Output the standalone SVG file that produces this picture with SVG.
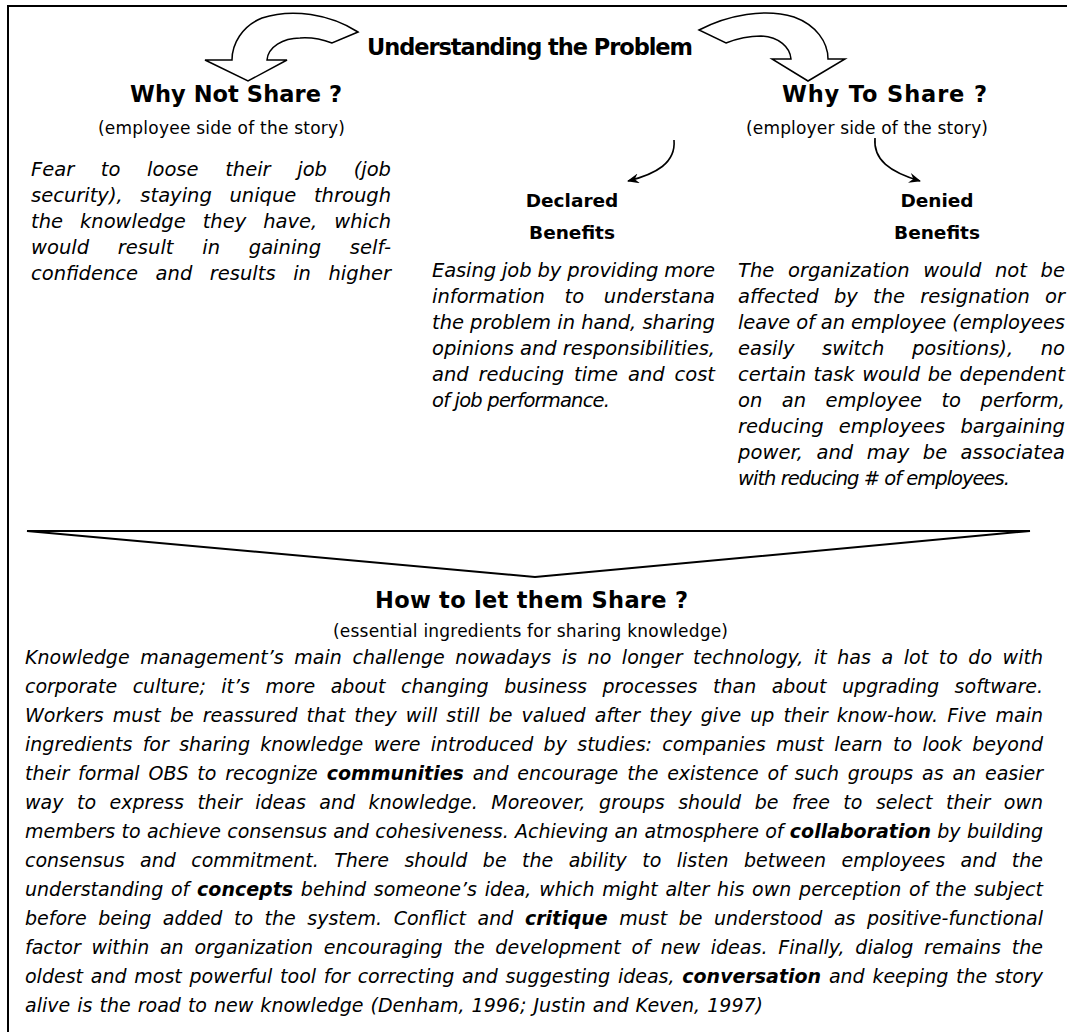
<svg xmlns="http://www.w3.org/2000/svg" width="1067" height="1032" viewBox="0 0 1067 1032">
  <style>
    .frame { fill: none; stroke: #000; stroke-width: 2; }
    .block { fill: #fff; stroke: #000; stroke-width: 1.5; stroke-linejoin: miter; }
    .link { fill: none; stroke: #000; stroke-width: 1.6; }
    .head { font-family: "DejaVu Sans", "Liberation Sans", sans-serif; font-weight: bold; font-size: 22.5px; fill: #000; }
    .label { font-family: "DejaVu Sans", "Liberation Sans", sans-serif; font-weight: bold; font-size: 18.5px; fill: #000; text-anchor: middle; }
    .sub { font-family: "DejaVu Sans", "Liberation Sans", sans-serif; font-size: 17px; fill: #000; }
    .body { font-family: "DejaVu Sans", "Liberation Sans", sans-serif; font-style: italic; font-size: 19.5px; fill: #000; }
    .para { font-family: "DejaVu Sans", "Liberation Sans", sans-serif; font-style: italic; font-size: 19px; fill: #000; }
    .em { font-weight: bold; }
  </style>
  <defs>
    <marker id="barb" viewBox="0 0 12 10" refX="11" refY="5" markerWidth="12" markerHeight="10" markerUnits="userSpaceOnUse" orient="auto">
      <path d="M0,0 L12,5 L0,10 L4,5 Z" fill="#000"/>
    </marker>
  </defs>

  <rect width="1067" height="1032" fill="#fff"/>

  <!-- page frame: top and left rules -->
  <path class="frame" d="M8,1032 L8,6 L1067,6"/>

  <!-- title with the two curved block arrows -->
  <g id="title">
    <path class="block" d="M358,32 C330,14 292,8 262,18 C242,26 232,44 232,60 L205,60 L248,81 L287,60 L267,60 C268,47 283,38 300,38 C314,37 324,40 332,43 Z"/>
    <path class="block" d="M699,30 C728,15 765,8 794,17 C816,25 828,42 828,59 L845,59 L808,81 L772,59 L791,59 C790,47 779,37 761,36 C748,36 736,39 726,43 Z"/>
    <text class="head" x="367" y="55" font-size="21" textLength="326" lengthAdjust="spacing">Understanding the Problem</text>
  </g>

  <!-- employee side -->
  <g id="why-not-share">
    <text class="head" x="130" y="102" textLength="212" lengthAdjust="spacing">Why Not Share ?</text>
    <text class="sub" x="98" y="134" textLength="247" lengthAdjust="spacing">(employee side of the story)</text>
    <g class="body">
      <text x="31" y="176" word-spacing="20.5" textLength="360" lengthAdjust="spacing">Fear to loose their job (job</text>
      <text x="31" y="202" word-spacing="11.4" textLength="360" lengthAdjust="spacing">security), staying unique through</text>
      <text x="31" y="228" word-spacing="10.8" textLength="360" lengthAdjust="spacing">the knowledge they have, which</text>
      <text x="31" y="254" word-spacing="22.5" textLength="360" lengthAdjust="spacing">would result in gaining self-</text>
      <text x="31" y="280" word-spacing="11.4" textLength="360" lengthAdjust="spacing">confidence and results in higher</text>
    </g>
  </g>

  <!-- employer side -->
  <g id="why-to-share">
    <text class="head" x="782" y="102" textLength="205" lengthAdjust="spacing">Why To Share ?</text>
    <text class="sub" x="746" y="134" textLength="242" lengthAdjust="spacing">(employer side of the story)</text>
  </g>

  <g id="declared-benefits">
    <text class="label" x="572" y="207">Declared</text>
    <text class="label" x="572" y="239">Benefits</text>
    <g class="body">
      <text x="432" y="277" textLength="283" lengthAdjust="spacing">Easing job by providing more</text>
      <text x="432" y="303" word-spacing="13.5" textLength="283" lengthAdjust="spacing">information to understana</text>
      <text x="432" y="329" textLength="283" lengthAdjust="spacing">the problem in hand, sharing</text>
      <text x="432" y="355" textLength="283" lengthAdjust="spacing">opinions and responsibilities,</text>
      <text x="432" y="381" word-spacing="3.7" textLength="283" lengthAdjust="spacing">and reducing time and cost</text>
      <text x="432" y="407" textLength="178" lengthAdjust="spacing">of job performance.</text>
    </g>
  </g>

  <g id="denied-benefits">
    <text class="label" x="937" y="207">Denied</text>
    <text class="label" x="937" y="239">Benefits</text>
    <g class="body">
      <text x="738" y="277" word-spacing="7.5" textLength="327" lengthAdjust="spacing">The organization would not be</text>
      <text x="738" y="303" word-spacing="9.1" textLength="327" lengthAdjust="spacing">affected by the resignation or</text>
      <text x="738" y="329" textLength="327" lengthAdjust="spacing">leave of an employee (employees</text>
      <text x="738" y="355" word-spacing="21.4" textLength="327" lengthAdjust="spacing">easily switch positions), no</text>
      <text x="738" y="381" word-spacing="1.3" textLength="327" lengthAdjust="spacing">certain task would be dependent</text>
      <text x="738" y="407" word-spacing="13.3" textLength="327" lengthAdjust="spacing">on an employee to perform,</text>
      <text x="738" y="433" word-spacing="9" textLength="327" lengthAdjust="spacing">reducing employees bargaining</text>
      <text x="738" y="459" word-spacing="7.1" textLength="327" lengthAdjust="spacing">power, and may be associatea</text>
      <text x="738" y="485" textLength="272" lengthAdjust="spacing">with reducing # of employees.</text>
    </g>
  </g>

  <!-- connectors: small curved arrows and the funnel separator -->
  <g id="connectors">
    <path class="link" d="M674,140 C676,163 656,174 628,181" marker-end="url(#barb)"/>
    <path class="link" d="M875,138 C873,160 890,172 920,181" marker-end="url(#barb)"/>
    <path class="frame" d="M27,531 L1030,531 L535,577 Z" stroke-linejoin="miter"/>
  </g>

  <!-- how to share -->
  <g id="how-to-share">
    <text class="head" x="375" y="608" font-size="23" textLength="313" lengthAdjust="spacing">How to let them Share ?</text>
    <text class="sub" x="333" y="637" textLength="395" lengthAdjust="spacing">(essential ingredients for sharing knowledge)</text>
    <g class="para">
      <text x="25" y="664" word-spacing="4.5" textLength="1018" lengthAdjust="spacing">Knowledge management’s main challenge nowadays is no longer technology, it has a lot to do with</text>
      <text x="25" y="693" word-spacing="9.5" textLength="1018" lengthAdjust="spacing">corporate culture; it’s more about changing business processes than about upgrading software.</text>
      <text x="25" y="722" word-spacing="3" textLength="1018" lengthAdjust="spacing">Workers must be reassured that they will still be valued after they give up their know-how. Five main</text>
      <text x="25" y="751" word-spacing="4.3" textLength="1018" lengthAdjust="spacing">ingredients for sharing knowledge were introduced by studies: companies must learn to look beyond</text>
      <text x="25" y="780" word-spacing="2.8" textLength="1018" lengthAdjust="spacing">their formal OBS to recognize <tspan class="em">communities</tspan> and encourage the existence of such groups as an easier</text>
      <text x="25" y="809" word-spacing="7.4" textLength="1018" lengthAdjust="spacing">way to express their ideas and knowledge. Moreover, groups should be free to select their own</text>
      <text x="25" y="838" word-spacing="0.3" textLength="1018" lengthAdjust="spacing">members to achieve consensus and cohesiveness. Achieving an atmosphere of <tspan class="em">collaboration</tspan> by building</text>
      <text x="25" y="867" word-spacing="9.4" textLength="1018" lengthAdjust="spacing">consensus and commitment. There should be the ability to listen between employees and the</text>
      <text x="25" y="896" word-spacing="1.7" textLength="1018" lengthAdjust="spacing">understanding of <tspan class="em">concepts</tspan> behind someone’s idea, which might alter his own perception of the subject</text>
      <text x="25" y="925" word-spacing="5.5" textLength="1018" lengthAdjust="spacing">before being added to the system. Conflict and <tspan class="em">critique</tspan> must be understood as positive-functional</text>
      <text x="25" y="954" word-spacing="4.7" textLength="1018" lengthAdjust="spacing">factor within an organization encouraging the development of new ideas. Finally, dialog remains the</text>
      <text x="25" y="983" word-spacing="1.7" textLength="1018" lengthAdjust="spacing">oldest and most powerful tool for correcting and suggesting ideas, <tspan class="em">conversation</tspan> and keeping the story</text>
      <text x="25" y="1012" word-spacing="1" textLength="738" lengthAdjust="spacing">alive is the road to new knowledge (Denham, 1996; Justin and Keven, 1997)</text>
    </g>
  </g>
</svg>
